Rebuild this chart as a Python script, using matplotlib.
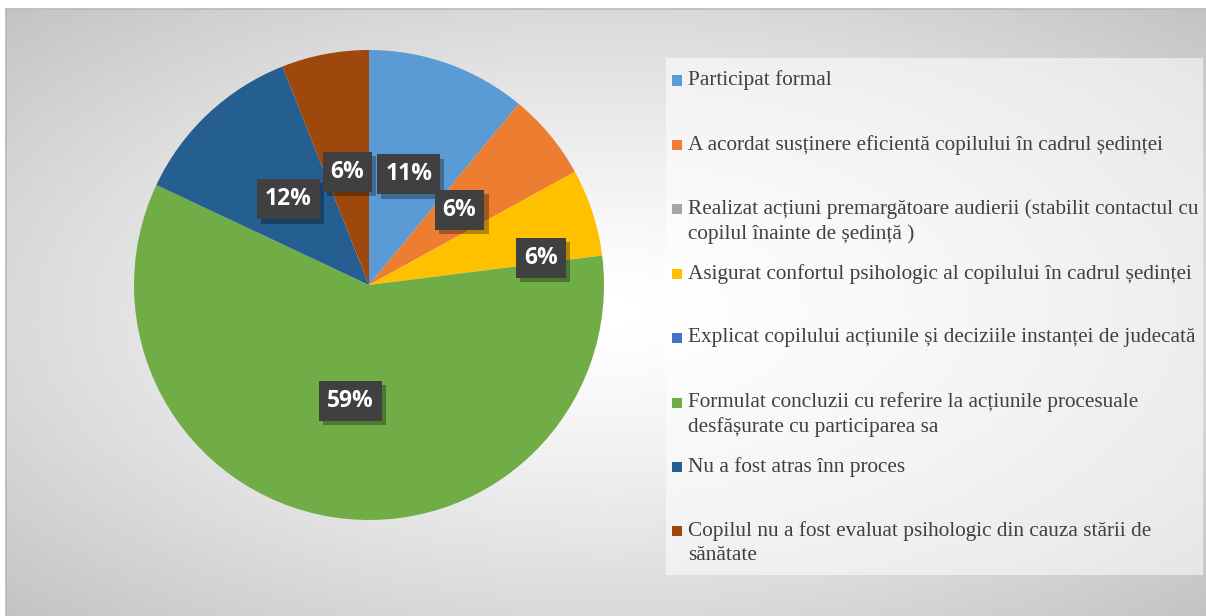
import numpy as np
import matplotlib
matplotlib.use('Agg')
import matplotlib.pyplot as plt
import matplotlib.patheffects as pe
from matplotlib.patches import Rectangle

# data
categories = [
    'Participat formal',
    'A acordat susținere eficientă copilului în cadrul ședinței',
    'Realizat acțiuni premargătoare audierii (stabilit contactul cu\ncopilul înainte de ședință )',
    'Asigurat confortul psihologic al copilului în cadrul ședinței',
    'Explicat copilului acțiunile și deciziile instanței de judecată',
    'Formulat concluzii cu referire la acțiunile procesuale\ndesfășurate cu participarea sa',
    'Nu a fost atras înn proces',
    'Copilul nu a fost evaluat psihologic din cauza stării de\nsănătate',
]
values = [11, 6, 0, 6, 0, 59, 12, 6]
colors = ['#5B9BD5', '#ED7D31', '#A5A5A5', '#FFC000', '#4472C4',
          '#70AD47', '#255E91', '#9E480E']

# label placement tweaks (radius, angle shift in deg) per slice
lab_r = [0.5, 0.5, 0.5, 0.74, 0.5, 0.5, 0.5, 0.49]
lab_shift = [0, 0, 0, -9, 0, 0, 0, 0]

W, H = 1206, 616
fig = plt.figure(figsize=(W / 100, H / 100), dpi=100)
fig.patch.set_facecolor('white')

# background with radial gradient
bg = fig.add_axes([6 / W, 0, 1 - 6 / W, 1 - 9 / H])
yy, xx = np.mgrid[0:1:300j, 0:1:600j]
r = np.sqrt(((xx - 0.5) / 0.5) ** 2 + ((yy - 0.5) / 0.5) ** 2)
grad = 1.0 - 0.235 * np.clip(r / 1.414, 0, 1) ** 1.3
bg.imshow(grad, cmap='gray', vmin=0, vmax=1, aspect='auto',
          extent=[0, 1, 0, 1], interpolation='bilinear')
bg.set_xlim(0, 1)
bg.set_ylim(0, 1)
bg.set_xticks([])
bg.set_yticks([])
for side in ['right', 'bottom']:
    bg.spines[side].set_visible(False)
for side in ['top', 'left']:
    bg.spines[side].set_color('#b8b8b8')
    bg.spines[side].set_linewidth(1.2)

# pie
cx, cy, rad = 369, 285, 235
ax = fig.add_axes([(cx - rad) / W, (H - cy - rad) / H, 2 * rad / W, 2 * rad / H])
ax.set_facecolor('none')
wedges, _ = ax.pie(values, colors=colors, startangle=90, counterclock=False,
                   radius=1.0, wedgeprops=dict(linewidth=0))
ax.set_xlim(-1, 1)
ax.set_ylim(-1, 1)
ax.set_aspect('equal')
ax.axis('off')

total = float(sum(values))
for w, v, rr, sh in zip(wedges, values, lab_r, lab_shift):
    if v == 0:
        continue
    ang = np.radians((w.theta1 + w.theta2) / 2 + sh)
    x, y = rr * np.cos(ang), rr * np.sin(ang)
    t = ax.text(x, y, '%d%%' % round(100 * v / total), ha='center', va='center',
                fontsize=16.5, fontweight='bold', family='Open Sans', color='white',
                bbox=dict(boxstyle='square,pad=0.35', facecolor='#404040',
                          edgecolor='none'))
    t.get_bbox_patch().set_path_effects([
        pe.SimplePatchShadow(offset=(3, -3), shadow_rgbFace='black', alpha=0.3),
        pe.Normal()])

# legend box
lx0, ly0, lx1, ly1 = 666, 58, 1203, 575
fig.patches.append(Rectangle((lx0 / W, 1 - ly1 / H), (lx1 - lx0) / W, (ly1 - ly0) / H,
                             transform=fig.transFigure, facecolor='white',
                             alpha=0.55, edgecolor='none'))
for i, (lab, c) in enumerate(zip(categories, colors)):
    top = 70.5 + 64.4 * i
    fig.patches.append(Rectangle((672 / W, 1 - (top + 15) / H), 10 / W, 10 / H,
                                 transform=fig.transFigure, facecolor=c,
                                 edgecolor='none'))
    fig.text(688 / W, 1 - top / H, lab, ha='left', va='top', fontsize=15.3,
             family='Liberation Serif', color='#404040', linespacing=1.33)

fig.savefig('out.png', dpi=100)
